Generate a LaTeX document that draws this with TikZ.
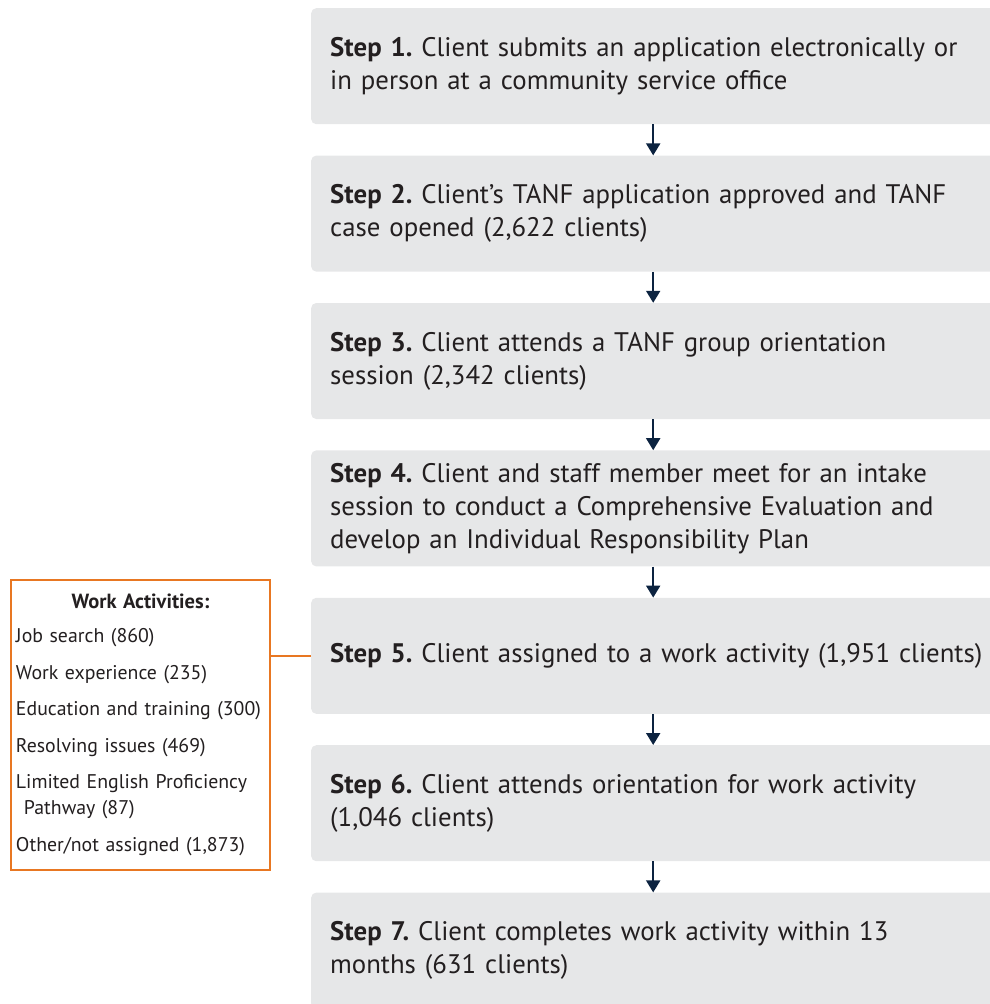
\documentclass[tikz,border=0pt]{standalone}
\usepackage{fontspec}
\setmainfont{PT Sans}
\frenchspacing
\usetikzlibrary{arrows.meta,positioning}
\definecolor{stepgray}{RGB}{230,231,232}
\definecolor{arrownavy}{RGB}{12,35,64}
\definecolor{actorange}{RGB}{232,119,34}
\definecolor{textdark}{RGB}{35,31,32}
\tikzset{
	stepbox/.style = {rectangle, rounded corners=5pt, fill=stepgray, text=textdark, minimum height=116pt, text width=646pt, inner xsep=19pt, align=left, font=\fontsize{26.8}{33}\selectfont},
	actbox/.style = {rectangle, draw=actorange, line width=2pt, fill=white, text=textdark, minimum height=290pt, text width=249pt, inner xsep=5pt, align=left, font=\fontsize{19.8}{26}\selectfont},
	flow/.style = {-{Triangle[width=14pt,length=12pt]}, draw=arrownavy, line width=2pt}
}
\begin{document}
\begin{tikzpicture}[x=1pt,y=-1pt]
	\useasboundingbox (0,0) rectangle (989,1004);
	\node[stepbox, anchor=north west] (step1) at (311,8) {\textbf{Step 1.} Client submits an application electronically or\\ in person at a community service office};
	\node[stepbox, below=31pt of step1] (step2) {\textbf{Step 2.} Client's TANF application approved and TANF\\ case opened (2,622 clients)};
	\node[stepbox, below=31pt of step2] (step3) {\textbf{Step 3.} Client attends a TANF group orientation\\ session (2,342 clients)};
	\node[stepbox, below=31pt of step3] (step4) {\textbf{Step 4.} Client and staff member meet for an intake\\ session to conduct a Comprehensive Evaluation and\\ develop an Individual Responsibility Plan};
	\node[stepbox, below=31pt of step4] (step5) {\mbox{\textbf{Step 5.} Client assigned to a work activity (1,951 clients)}};
	\node[stepbox, below=31pt of step5] (step6) {\textbf{Step 6.} Client attends orientation for work activity\\ (1,046 clients)};
	\node[stepbox, below=31pt of step6] (step7) {\textbf{Step 7.} Client completes work activity within 13\\ months (631 clients)};
	% arrows between steps
	\foreach \a/\b in {step1/step2,step2/step3,step3/step4,step4/step5,step5/step6,step6/step7}
		\draw[flow] (\a) -- (\b);
	% work activities
	\node[actbox, anchor=north west] (activities) at (10,579) {\makebox[\linewidth][c]{\bfseries\fontsize{20.5}{26}\selectfont Work Activities:}\\[8pt]
		Job search (860)\\[11pt]
		Work experience (235)\\[10pt]
		Education and training (300)\\[11pt]
		Resolving issues (469)\\[10pt]
		Limited English Proficiency\\
		\hspace*{8pt}Pathway (87)\\[11pt]
		Other/not assigned (1,873)};
	\draw[actorange, line width=2pt] (activities.east |- step5) -- (step5.west);
\end{tikzpicture}
\end{document}
